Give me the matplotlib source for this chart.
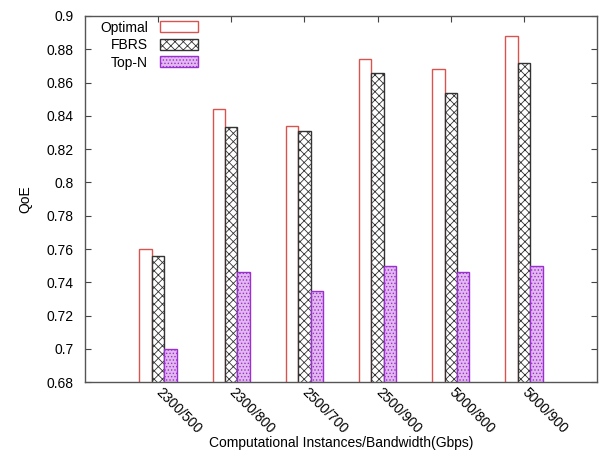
import matplotlib
matplotlib.use("Agg")
import matplotlib.pyplot as plt
import numpy as np

plt.rcParams['font.family'] = ['Liberation Sans', 'DejaVu Sans']
plt.rcParams['hatch.linewidth'] = 0.6

categories = ["2300/500", "2300/800", "2500/700", "2500/900", "5000/800", "5000/900"]
optimal = [0.760, 0.844, 0.834, 0.874, 0.868, 0.888]
fbrs = [0.756, 0.833, 0.831, 0.866, 0.854, 0.872]
topn = [0.700, 0.746, 0.735, 0.750, 0.746, 0.750]

fig = plt.figure(figsize=(6.02, 4.55), dpi=100)
ax = fig.add_axes([0.141, 0.160, 0.851, 0.805])

x = np.arange(1, len(categories) + 1)
w = 0.17
ax.bar(x - w, optimal, w, facecolor='white', edgecolor='#d9534f', linewidth=1.0, label='Optimal')
plt.rcParams['hatch.color'] = '#333333'
ax.bar(x, fbrs, w, facecolor='white', edgecolor='#333333', hatch='xxxx', linewidth=1.0, label='FBRS')
ax.bar(x + w, topn, w, facecolor='#e2b8ee', edgecolor='#9b30d0', hatch='.....', linewidth=1.0, label='Top-N')

ax.set_ylim(0.68, 0.9)
ax.set_xlim(0, 7)
ax.set_yticks(np.arange(0.68, 0.9001, 0.02))
ax.set_yticklabels(["0.68", "0.7", "0.72", "0.74", "0.76", "0.78", "0.8", "0.82", "0.84", "0.86", "0.88", "0.9"])
ax.set_xticks(x)
ax.set_xticklabels(categories, rotation=-45, ha='left', va='center', rotation_mode='anchor')
ax.tick_params(axis='both', direction='in', labelsize=10, length=4, color='#444444')
ax.tick_params(axis='x', bottom=False, top=True, pad=5.5)
ax.tick_params(axis='y', right=True, pad=8)
for s in ax.spines.values():
    s.set_color('#555555')
    s.set_linewidth(1.0)

ax.set_ylabel('QoE', fontsize=10, labelpad=10)
ax.set_xlabel('Computational Instances/Bandwidth(Gbps)', fontsize=10, labelpad=0)

leg = ax.legend(loc='upper left', frameon=False, markerfirst=False, fontsize=10,
                handlelength=2.75, handleheight=0.8, labelspacing=0.25,
                bbox_to_anchor=(0.013, 1.01), borderaxespad=0.2, handletextpad=0.85)
for t in leg.get_texts():
    t.set_ha('right')
leg._legend_box.align = 'right'

fig.savefig('out.png', dpi=100)
